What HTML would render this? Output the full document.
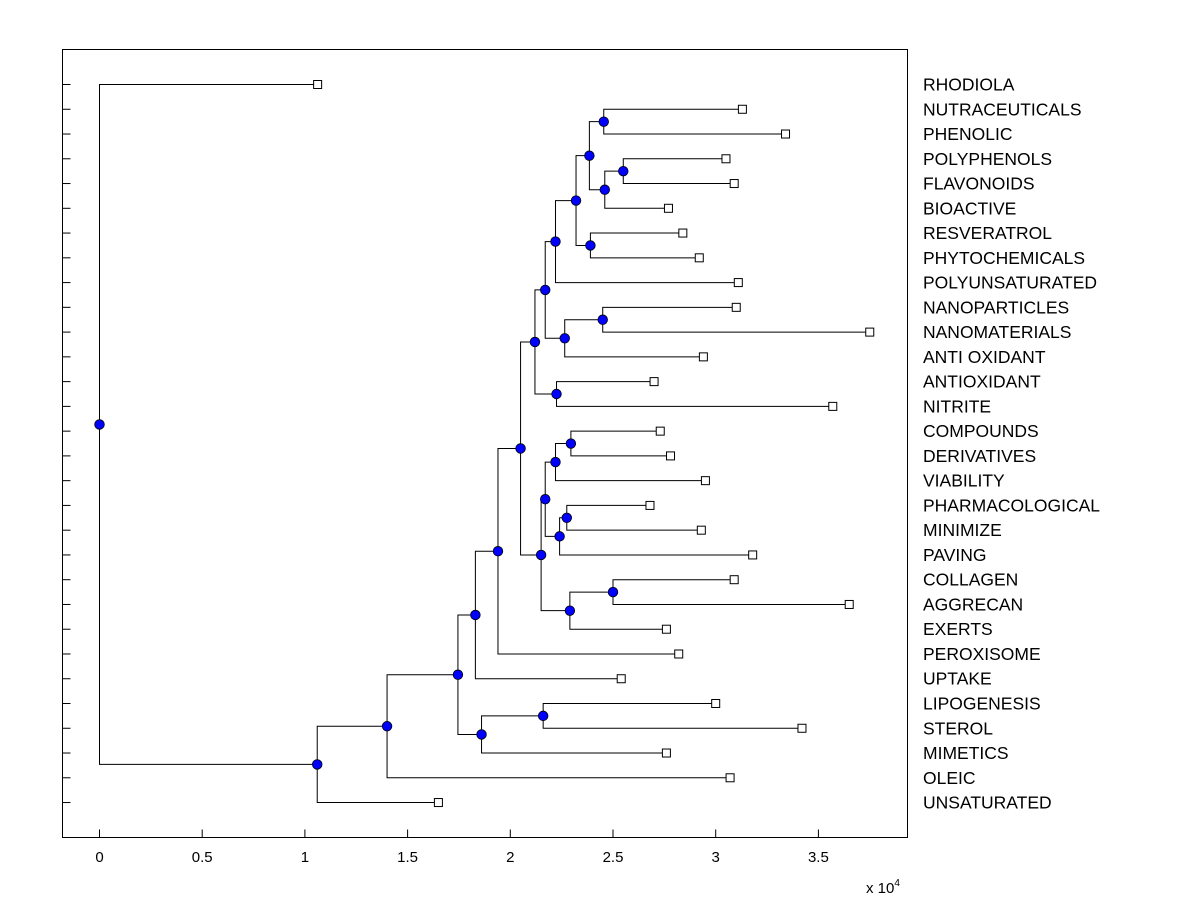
<!DOCTYPE html>
<html><head><meta charset="utf-8"><style>
html,body{margin:0;padding:0;background:#fff;}
svg{display:block;font-family:"Liberation Sans",sans-serif;}
</style></head><body>
<svg id="chart" width="1200" height="900" viewBox="0 0 1200 900">
<rect x="62.5" y="49.5" width="845" height="788" fill="#fff" stroke="#000" stroke-width="1"/>
<g id="links"></g>
<g id="marks"></g>
<g id="axes"></g>
<text x="866" y="893" font-size="15">x 10<tspan dy="-7" font-size="10">4</tspan></text>
</svg>
<script>
const leafNames = ["RHODIOLA","NUTRACEUTICALS","PHENOLIC","POLYPHENOLS","FLAVONOIDS","BIOACTIVE","RESVERATROL","PHYTOCHEMICALS","POLYUNSATURATED","NANOPARTICLES","NANOMATERIALS","ANTI OXIDANT","ANTIOXIDANT","NITRITE","COMPOUNDS","DERIVATIVES","VIABILITY","PHARMACOLOGICAL","MINIMIZE","PAVING","COLLAGEN","AGGRECAN","EXERTS","PEROXISOME","UPTAKE","LIPOGENESIS","STEROL","MIMETICS","OLEIC","UNSATURATED"];
const leafValues = [1.062,3.13,3.34,3.05,3.09,2.77,2.84,2.92,3.11,3.10,3.75,2.94,2.70,3.57,2.73,2.78,2.95,2.68,2.93,3.18,3.09,3.65,2.76,2.82,2.54,3.00,3.42,2.76,3.07,1.65];
const nodeIds = ["root","A","B","C","E","F","D","G","H","I","L","K","N","O","M","P","R","Q","S","T","U","J","W","X","V","Y","AA","Z","AB"];
const nodeValues = [0,1.06,1.40,1.745,1.86,2.16,1.83,1.94,2.05,2.12,2.225,2.17,2.265,2.45,2.22,2.32,2.39,2.385,2.455,2.46,2.55,2.15,2.29,2.50,2.17,2.22,2.295,2.24,2.275];
const nodeChildren = [[0,"A"],["B",29],["C",28],["D","E"],["F",27],[25,26],["G",24],["H",23],["I","J"],["K","L"],[12,13],["M","N"],["O",11],[9,10],["P",8],["Q","R"],[6,7],["S","T"],[1,2],["U",5],[3,4],["V","W"],["X",22],[20,21],["Y","Z"],["AA",16],[14,15],["AB",19],[17,18]];
const xTicks = [0,0.5,1,1.5,2,2.5,3,3.5];
const xTickLabels = ["0","0.5","1","1.5","2","2.5","3","3.5"];

const X0=99.5, XS=205.4, Y0=84.5, YS=24.76, BOT=837.5, LEFT=62.5;
const xs = v => X0 + v*XS;
const ys = i => Y0 + i*YS;
const NS="http://www.w3.org/2000/svg";
function mk(tag, attrs, parent){const e=document.createElementNS(NS,tag);for(const k in attrs)e.setAttribute(k,attrs[k]);parent.appendChild(e);return e;}
const links=document.getElementById('links'), marks=document.getElementById('marks'), axes=document.getElementById('axes');
const nodeMap={};
nodeIds.forEach((id,i)=>nodeMap[id]={v:nodeValues[i],c:nodeChildren[i]});
function pos(c){
  if(typeof c==="number") return {x:xs(leafValues[c]),y:ys(c)};
  const n=nodeMap[c];
  const a=pos(n.c[0]), b=pos(n.c[1]);
  return {x:xs(n.v),y:(a.y+b.y)/2};
}
nodeIds.forEach((id,i)=>{
  const p=pos(id), a=pos(nodeChildren[i][0]), b=pos(nodeChildren[i][1]);
  const path=mk('path',{d:`M${a.x},${a.y}H${p.x}V${b.y}H${b.x}`,fill:'none',stroke:'#000','stroke-width':1},links);
  
  
});
leafNames.forEach((nm,i)=>{
  const p=pos(i);
  const r=mk('rect',{x:p.x-4,y:p.y-4,width:8,height:8,fill:'#fff',stroke:'#000','stroke-width':1},marks);
  
  
  const t=mk('text',{x:923,y:p.y+6,'font-size':17.5},axes);
  t.textContent=nm;
  
  
  const tk=mk('line',{x1:LEFT,x2:LEFT+8,y1:p.y,y2:p.y,stroke:'#000'},axes);
  
  
});
nodeIds.forEach(id=>{
  const p=pos(id);
  const c=mk('circle',{cx:p.x,cy:p.y,r:4.8,fill:'#0000ff',stroke:'#000','stroke-width':0.8},marks);
  
  
});
xTicks.forEach((v,i)=>{
  const x=xs(v);
  const l=mk('line',{x1:x,x2:x,y1:BOT,y2:BOT-8,stroke:'#000'},axes);
  
  
  const t=mk('text',{x:x,y:862,'font-size':15,'text-anchor':'middle'},axes);
  t.textContent=xTickLabels[i];
  
  
});
</script>
</body></html>
